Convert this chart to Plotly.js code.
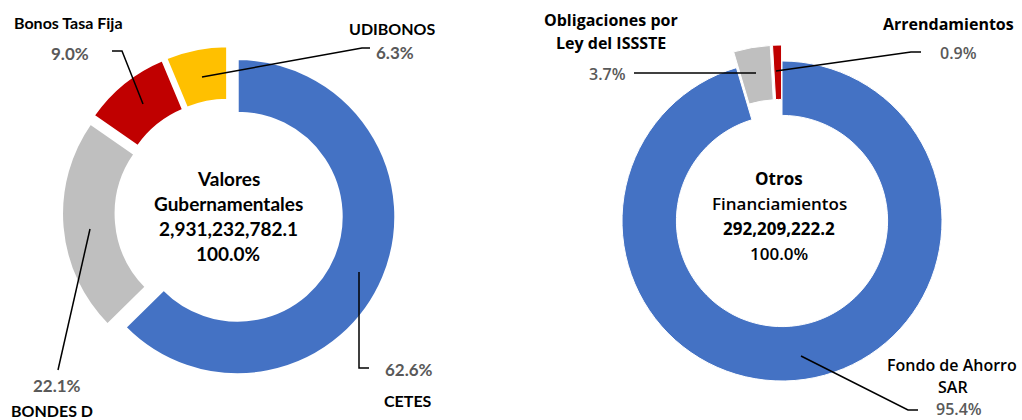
<!DOCTYPE html>
<html>
<head>
<meta charset="utf-8">
<script src="https://cdn.plot.ly/plotly-3.0.1.min.js"></script>
<style>
  html, body { margin: 0; padding: 0; background: #fff; }
  #plot { width: 1022px; height: 420px; }
</style>
</head>
<body>
<div id="plot"></div>
<script>
// Valores Gubernamentales (left) and Otros Financiamientos (right)
let valoresLabels = ["CETES", "BONDES D", "Bonos Tasa Fija", "UDIBONOS"];
let valoresShares = [62.6, 22.1, 9.0, 6.3];
let valoresColors = ["#4472C4", "#BFBFBF", "#C00000", "#FFC000"];
let valoresTotal = "2,931,232,782.1";

let otrosLabels = ["Fondo de Ahorro SAR", "Obligaciones por Ley del ISSSTE", "Arrendamientos"];
let otrosShares = [95.4, 3.7, 0.9];
let otrosColors = ["#4472C4", "#BFBFBF", "#C00000"];
let otrosTotal = "292,209,222.2";

const W = 1022, H = 420;
const px = x => x / W;
const py = y => 1 - y / H;

let leftFont = "Lato, 'Open Sans', sans-serif";
let rightFont = "'Open Sans', 'DejaVu Sans', sans-serif";

let trace1 = {
    type: "pie",
    labels: valoresLabels,
    values: valoresShares,
    hole: 0.66,
    sort: false,
    direction: "clockwise",
    rotation: 0,
    pull: [0.06, 0.06, 0.06, 0.06],
    marker: { colors: valoresColors, line: { color: "#fff", width: 2 } },
    textinfo: "none",
    hoverinfo: "label+percent",
    domain: { x: [px(62), px(396)], y: [py(380), py(46)] }
};

let trace2 = {
    type: "pie",
    labels: otrosLabels,
    values: otrosShares,
    hole: 0.66,
    sort: false,
    direction: "clockwise",
    rotation: 0,
    pull: [0, 0.1, 0.1],
    marker: { colors: otrosColors, line: { color: "#fff", width: 1 } },
    textinfo: "none",
    hoverinfo: "label+percent",
    domain: { x: [px(606), px(958)], y: [py(397), py(45)] }
};

function note(text, x, y, opts) {
    opts = opts || {};
    return {
        text: text,
        x: px(x), y: py(y),
        xref: "paper", yref: "paper",
        xanchor: opts.anchor || "center",
        yanchor: "middle",
        showarrow: false,
        font: {
            family: opts.family || leftFont,
            size: opts.size || 16,
            color: opts.color || "#000",
            weight: opts.weight || 700
        }
    };
}

function leader(points) {
    let d = points.map((p, i) => (i ? "L" : "M") + px(p[0]) + "," + py(p[1])).join(" ");
    return { type: "path", xref: "paper", yref: "paper", path: d, line: { color: "#000", width: 1.5 } };
}

let gray = "#595959";
let pct = v => v.toFixed(1) + "%";

let annotations = [
    // left center
    note("Valores", 228, 178, { size: 19 }),
    note("Gubernamentales", 228, 203, { size: 19 }),
    note(valoresTotal, 228, 229, { size: 19 }),
    note(pct(valoresShares.reduce((a, b) => a + b, 0)), 228, 254, { size: 19 }),
    // left labels
    note("Bonos Tasa Fija", 12, 22, { anchor: "left" }),
    note(pct(valoresShares[2]), 91, 53, { anchor: "right", color: gray, size: 17 }),
    note("UDIBONOS", 392, 29),
    note(pct(valoresShares[3]), 395, 52, { color: gray, size: 17 }),
    note(pct(valoresShares[0]), 409, 369, { color: gray, size: 17 }),
    note("CETES", 408, 400),
    note(pct(valoresShares[1]), 57, 385, { color: gray, size: 17 }),
    note("BONDES D", 52, 410),
    // right center
    note("Otros", 779, 178, { family: rightFont, size: 17, weight: 700 }),
    note("Financiamientos", 779, 203, { family: rightFont, size: 17, weight: 600 }),
    note(otrosTotal, 779, 229, { family: rightFont, size: 17, weight: 700 }),
    note(pct(otrosShares.reduce((a, b) => a + b, 0)), 779, 254, { family: rightFont, size: 17, weight: 600 }),
    // right labels
    note("Obligaciones por", 611, 20, { family: rightFont, size: 16 }),
    note("Ley del ISSSTE", 611, 43, { family: rightFont, size: 16 }),
    note(pct(otrosShares[1]), 607, 74, { family: rightFont, size: 16, color: gray, weight: 600 }),
    note("Arrendamientos", 948, 24, { family: rightFont, size: 16 }),
    note(pct(otrosShares[2]), 958, 53, { family: rightFont, size: 16, color: gray, weight: 600 }),
    note("Fondo de Ahorro", 952, 365, { family: rightFont, size: 16, weight: 600 }),
    note("SAR", 953, 387, { family: rightFont, size: 16, weight: 600 }),
    note(pct(otrosShares[0]), 959, 409, { family: rightFont, size: 16, color: gray, weight: 600 })
];

let shapes = [
    leader([[112, 51], [122, 51], [143, 104]]),
    leader([[202, 77], [362, 48], [370, 48]]),
    leader([[359, 272], [359, 368], [369, 368]]),
    leader([[90, 229], [58, 370]]),
    leader([[634, 73], [756, 73]]),
    leader([[776, 71], [911, 52], [921, 52]]),
    leader([[801, 356], [908, 410], [918, 410]])
];

let layout = {
    width: W,
    height: H,
    margin: { l: 0, r: 0, t: 0, b: 0 },
    showlegend: false,
    paper_bgcolor: "#fff",
    annotations: annotations,
    shapes: shapes
};

Plotly.newPlot("plot", [trace1, trace2], layout, { displayModeBar: false, staticPlot: true });
</script>
</body>
</html>
